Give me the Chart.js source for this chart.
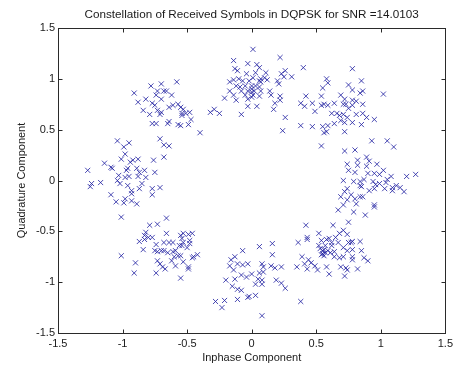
<!DOCTYPE html>
<html>
<head>
<meta charset="utf-8">
<script src="https://cdn.jsdelivr.net/npm/chart.js@4/dist/chart.umd.min.js"></script>
<style>
  html, body { margin: 0; padding: 0; background: #fff; }
  canvas { display: block; }
</style>
</head>
<body>
<canvas id="c" width="457" height="367"></canvas>
<script>
// ─── data: received symbols, [inphase, quadrature] ───

const titleText = 'Constellation of Received Symbols in DQPSK for SNR =14.0103';
const xLabel = 'Inphase Component';
const yLabel = 'Quadrature Component';

const xTicks = [-1.5, -1, -0.5, 0, 0.5, 1, 1.5];
const yTicks = [-1.5, -1, -0.5, 0, 0.5, 1, 1.5];

const upperLeft = [
  [-0.78,0.93],[-0.70,0.95],[-0.58,0.97],[-0.91,0.86],[-0.73,0.88],[-0.68,0.88],[-0.66,0.88],
  [-0.62,0.84],[-0.74,0.84],[-0.82,0.80],[-0.70,0.80],[-0.88,0.77],[-0.77,0.76],[-0.75,0.74],
  [-0.61,0.74],[-0.57,0.75],[-0.64,0.72],[-0.55,0.72],[-0.84,0.69],[-0.73,0.69],[-0.70,0.67],
  [-0.79,0.65],[-0.71,0.65],[-0.64,0.58],[-0.77,0.56],[-0.74,0.56],[-0.65,0.56],[-0.57,0.55],
  [-0.54,0.64],[-0.53,0.70],[-0.54,0.66],[-0.51,0.66],[-0.48,0.67],[-0.47,0.60],[-0.49,0.55],
  [-0.55,0.54]
];

const leftCluster = [
  [-1.04,0.39],[-0.99,0.33],[-0.95,0.37],[-0.71,0.41],[-0.68,0.35],[-0.64,0.34],[-0.98,0.26],
  [-1.01,0.21],[-0.94,0.18],[-0.92,0.20],[-0.88,0.21],[-0.76,0.20],[-0.68,0.23],[-1.14,0.17],
  [-1.09,0.13],[-1.08,0.12],[-0.96,0.12],[-0.97,0.10],[-0.89,0.12],[-0.87,0.08],[-0.83,0.10],
  [-1.27,0.10],[-1.03,0.05],[-0.98,0.03],[-0.95,0.04],[-0.88,0.04],[-0.82,0.03],[-0.75,0.08],
  [-1.24,-0.03],[-1.17,-0.02],[-1.25,-0.06],[-1.04,0.00],[-1.02,-0.03],[-0.96,-0.05],
  [-0.85,-0.03],[-0.77,-0.08],[-0.71,-0.07],[-0.87,-0.08],[-0.93,-0.10],[-0.93,-0.13],
  [-0.77,-0.14],[-1.09,-0.14],[-1.05,-0.21],[-0.98,-0.18],[-0.99,-0.22],[-0.93,-0.20],
  [-0.89,-0.23],[-1.01,-0.36]
];

const lowerLeft = [
  [-0.66,-0.37],[-0.79,-0.44],[-0.73,-0.43],[-0.82,-0.51],[-0.83,-0.54],[-0.80,-0.56],
  [-0.77,-0.56],[-0.87,-0.60],[-0.83,-0.58],[-0.74,-0.63],[-0.66,-0.52],[-0.68,-0.61],
  [-0.64,-0.61],[-0.61,-0.61],[-0.55,-0.54],[-0.53,-0.61],[-0.56,-0.64],[-0.84,-0.68],
  [-0.75,-0.69],[-0.73,-0.70],[-0.70,-0.69],[-0.68,-0.69],[-0.65,-0.71],[-0.61,-0.70],
  [-0.59,-0.69],[-0.57,-0.74],[-1.01,-0.74],[-0.73,-0.79],[-0.71,-0.82],[-0.69,-0.85],
  [-0.67,-0.87],[-0.62,-0.79],[-0.60,-0.75],[-0.59,-0.84],[-0.90,-0.81],[-0.91,-0.91],
  [-0.74,-0.91],[-0.55,-0.96],[-0.55,-0.74],[-0.53,-0.52],[-0.49,-0.53],[-0.46,-0.52],
  [-0.54,-0.57],[-0.48,-0.59],[-0.48,-0.62],[-0.54,-0.64],[-0.50,-0.66],[-0.45,-0.75],
  [-0.42,-0.73],[-0.46,-0.76],[-0.53,-0.80],[-0.49,-0.85],[-0.49,-0.87]
];

const topCluster = [
  [0.01,1.29],[0.22,1.21],[-0.14,1.18],[-0.03,1.15],[0.04,1.14],[0.06,1.11],[-0.13,1.10],
  [-0.11,1.08],[-0.04,1.05],[0.03,1.06],[0.11,1.06],[0.23,1.05],[0.26,1.08],[0.25,1.02],
  [0.31,1.02],[-0.17,0.97],[-0.14,0.99],[-0.10,1.00],[-0.07,0.98],[-0.02,0.98],[0.01,1.01],
  [0.06,0.98],[0.07,1.00],[0.10,1.01],[0.12,0.99],[0.20,0.98],[0.21,0.95],[-0.12,0.93],
  [-0.09,0.92],[-0.05,0.93],[0.00,0.93],[0.03,0.93],[0.06,0.92],[-0.17,0.88],[-0.08,0.88],
  [-0.03,0.88],[0.00,0.90],[0.02,0.88],[0.07,0.88],[0.14,0.88],[-0.14,0.84],[-0.05,0.84],
  [0.01,0.84],[0.15,0.84],[0.22,0.83],[-0.21,0.81],[-0.12,0.79],[-0.03,0.80],[0.06,0.83],
  [0.18,0.76],[0.22,0.79],[-0.03,0.73],[0.04,0.73],[0.17,0.70],[-0.32,0.67],[-0.29,0.70],
  [-0.25,0.66],[-0.08,0.65],[0.26,0.62],[0.24,0.49],[-0.40,0.47],[0.07,0.97],[0.00,0.87],
  [0.00,0.82]
];

const upperRight = [
  [0.40,1.11],[0.78,1.10],[0.58,1.00],[0.59,0.96],[0.55,0.91],[0.75,0.94],[0.85,0.98],
  [0.78,0.89],[0.86,0.88],[0.84,0.86],[1.02,0.85],[0.42,0.83],[0.54,0.83],[0.38,0.76],
  [0.41,0.73],[0.47,0.76],[0.49,0.68],[0.54,0.74],[0.56,0.75],[0.59,0.74],[0.64,0.76],
  [0.69,0.84],[0.72,0.80],[0.78,0.79],[0.81,0.78],[0.71,0.75],[0.73,0.75],[0.75,0.71],
  [0.78,0.74],[0.86,0.75],[0.62,0.66],[0.66,0.66],[0.68,0.64],[0.71,0.65],[0.74,0.62],
  [0.81,0.65],[0.86,0.66],[0.89,0.62],[0.95,0.60],[0.64,0.56],[0.69,0.59],[0.72,0.57],
  [0.78,0.57],[0.85,0.55],[0.38,0.54],[0.47,0.53],[0.55,0.53],[0.59,0.54],[0.56,0.47],
  [0.58,0.48],[0.72,0.48],[0.54,0.34],[0.72,0.29],[0.80,0.30],[0.93,0.39],[1.05,0.39],
  [1.10,0.33]
];

const rightCluster = [
  [0.89,0.23],[0.82,0.20],[0.91,0.19],[0.97,0.16],[0.74,0.16],[0.82,0.15],[0.89,0.14],
  [0.75,0.10],[0.80,0.08],[1.02,0.10],[0.90,0.07],[0.95,0.07],[0.99,0.06],[1.08,0.04],
  [1.20,0.04],[1.27,0.06],[0.71,0.00],[0.79,-0.01],[0.84,-0.01],[0.87,0.01],[0.94,-0.01],
  [0.99,-0.03],[1.05,0.01],[0.74,-0.08],[0.85,-0.06],[0.96,-0.04],[0.95,-0.08],[1.03,-0.08],
  [1.09,-0.07],[1.15,-0.07],[0.84,-0.05],[1.04,-0.02],[0.91,-0.10],[1.09,-0.10],[1.18,-0.11],
  [1.12,-0.05],[0.72,-0.11],[0.77,-0.14],[0.84,-0.16],[0.69,-0.16],[0.74,-0.19],[0.80,-0.18],
  [0.86,-0.16],[0.67,-0.29],[0.71,-0.24],[0.81,-0.23],[0.79,-0.31],[0.88,-0.34],[0.95,-0.24],
  [0.95,-0.26],[0.75,-0.41]
];

const lowerRight = [
  [0.42,-0.44],[0.63,-0.44],[0.71,-0.49],[0.74,-0.53],[0.52,-0.52],[0.43,-0.56],[0.43,-0.58],
  [0.36,-0.61],[0.54,-0.59],[0.58,-0.58],[0.60,-0.57],[0.65,-0.56],[0.68,-0.52],[0.62,-0.61],
  [0.67,-0.61],[0.77,-0.61],[0.78,-0.60],[0.84,-0.60],[0.52,-0.64],[0.57,-0.64],[0.62,-0.64],
  [0.71,-0.66],[0.53,-0.67],[0.55,-0.69],[0.59,-0.69],[0.64,-0.70],[0.74,-0.69],[0.78,-0.68],
  [0.85,-0.69],[0.39,-0.75],[0.44,-0.78],[0.54,-0.73],[0.56,-0.74],[0.61,-0.71],[0.64,-0.75],
  [0.68,-0.76],[0.71,-0.75],[0.78,-0.75],[0.78,-0.78],[0.87,-0.76],[0.90,-0.79],[0.41,-0.82],
  [0.46,-0.81],[0.49,-0.84],[0.35,-0.85],[0.43,-0.87],[0.51,-0.88],[0.58,-0.85],[0.69,-0.85],
  [0.73,-0.86],[0.74,-0.88],[0.82,-0.87],[0.60,-0.92],[0.72,-0.94],[0.38,-1.19],[0.55,-0.72],
  [0.57,-0.71],[0.56,-0.68],[0.75,-0.61]
];

const bottomCluster = [
  [0.06,-0.65],[0.16,-0.62],[-0.07,-0.69],[-0.13,-0.75],[-0.16,-0.78],[0.16,-0.73],
  [-0.17,-0.84],[-0.14,-0.88],[-0.11,-0.82],[-0.07,-0.83],[-0.03,-0.82],[0.08,-0.82],
  [0.09,-0.85],[0.15,-0.84],[0.18,-0.86],[0.23,-0.85],[0.00,-0.92],[-0.04,-0.95],
  [-0.08,-0.93],[-0.13,-0.97],[-0.20,-0.98],[0.06,-0.91],[0.09,-0.90],[0.05,-0.97],
  [0.08,-0.98],[0.08,-1.02],[-0.15,-1.04],[-0.11,-1.07],[-0.08,-1.08],[0.03,-1.02],
  [-0.02,-1.14],[-0.03,-1.15],[0.03,-1.13],[0.19,-0.98],[0.23,-1.01],[0.26,-1.06],
  [-0.28,-1.19],[-0.21,-1.18],[-0.11,-1.17],[-0.23,-1.25],[0.08,-1.33]
];

const clusters = [upperLeft, leftCluster, lowerLeft, topCluster, upperRight, rightCluster, lowerRight, bottomCluster];

// ─── style ───

const FONT = 'Arial, "Liberation Sans", sans-serif';
const TEXT_COLOR = '#1a1a1a';
const AXIS_COLOR = '#2a2a2a';
const MARKER_COLOR = 'rgba(30,30,160,0.8)';
const TICK_LEN = 4;

// MATLAB 스타일 박스 + 안쪽 눈금 + 제목/축 라벨
const matlabAxes = {
  id: 'matlabAxes',
  afterDraw(chart) {
    const { ctx, chartArea: a, scales: { x, y } } = chart;
    ctx.save();
    ctx.strokeStyle = AXIS_COLOR;
    ctx.lineWidth = 1;
    const L = Math.round(a.left) + 0.5, R = Math.round(a.right) + 0.5;
    const T = Math.round(a.top) + 0.5, B = Math.round(a.bottom) + 0.5;
    ctx.strokeRect(L, T, R - L, B - T);

    ctx.beginPath();
    for (const v of xTicks) {
      const px = Math.round(x.getPixelForValue(v)) + 0.5;
      ctx.moveTo(px, B); ctx.lineTo(px, B - TICK_LEN);
      ctx.moveTo(px, T); ctx.lineTo(px, T + TICK_LEN);
    }
    for (const v of yTicks) {
      const py = Math.round(y.getPixelForValue(v)) + 0.5;
      ctx.moveTo(L, py); ctx.lineTo(L + TICK_LEN, py);
      ctx.moveTo(R, py); ctx.lineTo(R - TICK_LEN, py);
    }
    ctx.stroke();

    ctx.fillStyle = TEXT_COLOR;
    ctx.textAlign = 'center';
    ctx.textBaseline = 'middle';
    ctx.font = '11.7px ' + FONT;
    ctx.fillText(titleText, (a.left + a.right) / 2, 15);
    ctx.font = '11px ' + FONT;
    ctx.fillText(xLabel, (a.left + a.right) / 2, 358);

    ctx.translate(22, (a.top + a.bottom) / 2);
    ctx.rotate(-Math.PI / 2);
    ctx.fillText(yLabel, 0, 0);
    ctx.restore();
  }
};

const tickFont = { family: FONT, size: 11 };
const fmt = (v) => String(v);

new Chart(document.getElementById('c').getContext('2d'), {
  type: 'scatter',
  data: {
    datasets: clusters.map((pts) => ({
      data: pts.map(([i, q]) => ({ x: i, y: q })),
      pointStyle: 'crossRot',
      pointRadius: 3.6,
      borderWidth: 1,
      borderColor: MARKER_COLOR,
      backgroundColor: MARKER_COLOR,
    })),
  },
  options: {
    responsive: false,
    animation: false,
    events: [],
    layout: { padding: { top: 28, right: 11, left: 0, bottom: 0 } },
    plugins: { legend: { display: false }, tooltip: { enabled: false } },
    scales: {
      x: {
        type: 'linear', min: -1.5, max: 1.5,
        afterBuildTicks: (s) => { s.ticks = xTicks.map((v) => ({ value: v })); },
        afterFit: (s) => { s.height = 34; },
        grid: { display: false, drawTicks: false },
        border: { display: false },
        ticks: { padding: 4, font: tickFont, color: TEXT_COLOR, maxRotation: 0, autoSkip: false, callback: fmt },
      },
      y: {
        type: 'linear', min: -1.5, max: 1.5,
        afterBuildTicks: (s) => { s.ticks = yTicks.map((v) => ({ value: v })); },
        afterFit: (s) => { s.width = 58; },
        grid: { display: false, drawTicks: false },
        border: { display: false },
        ticks: { padding: 3, font: tickFont, color: TEXT_COLOR, autoSkip: false, callback: fmt },
      },
    },
  },
  plugins: [matlabAxes],
});
</script>
</body>
</html>
